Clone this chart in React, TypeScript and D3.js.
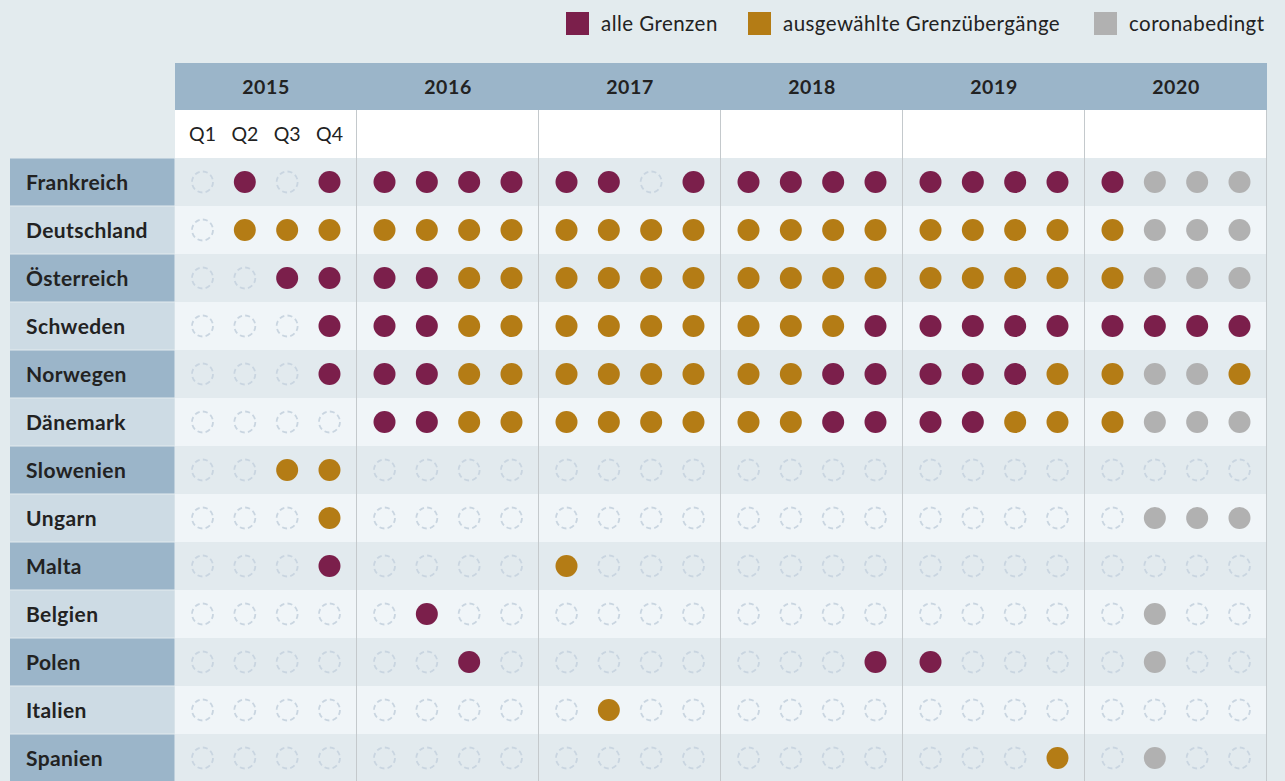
import * as d3 from "d3";

const years = ["2015", "2016", "2017", "2018", "2019", "2020"];
const quarters = ["Q1", "Q2", "Q3", "Q4"];
const countries = [
  "Frankreich",
  "Deutschland",
  "Österreich",
  "Schweden",
  "Norwegen",
  "Dänemark",
  "Slowenien",
  "Ungarn",
  "Malta",
  "Belgien",
  "Polen",
  "Italien",
  "Spanien",
];

// 0 = keine Kontrollen, 1 = alle Grenzen, 2 = ausgewählte Grenzübergänge, 3 = coronabedingt
// one string per country, 4 quarters per year, 2015..2020
const frankreich = "0101 1111 1101 1111 1111 1333";
const deutschland = "0222 2222 2222 2222 2222 2333";
const oesterreich = "0011 1122 2222 2222 2222 2333";
const schweden = "0001 1122 2222 2221 1111 1111";
const norwegen = "0001 1122 2222 2211 1112 2332";
const daenemark = "0000 1122 2222 2211 1122 2333";
const slowenien = "0022 0000 0000 0000 0000 0000";
const ungarn = "0002 0000 0000 0000 0000 0333";
const malta = "0001 0000 2000 0000 0000 0000";
const belgien = "0000 0100 0000 0000 0000 0300";
const polen = "0000 0010 0000 0001 1000 0300";
const italien = "0000 0000 0200 0000 0000 0000";
const spanien = "0000 0000 0000 0000 0002 0300";

const statusRows = [
  frankreich, deutschland, oesterreich, schweden, norwegen, daenemark,
  slowenien, ungarn, malta, belgien, polen, italien, spanien,
];

const legendLabels = ["alle Grenzen", "ausgewählte Grenzübergänge", "coronabedingt"];
const legendX = [566, 748, 1094];

const statusColors = ["none", "#7b1f4b", "#b47c15", "#b1b1b1"];

const width = 1285;
const height = 781;
const font = "'Source Sans Pro', Lato, 'Noto Sans', sans-serif";

export default function App() {
  const x = d3.scaleBand<string>().domain(years).range([175, 1267]);
  const q = d3.scalePoint<string>().domain(quarters).range([0, x.bandwidth()]).padding(0.65);
  const y = d3.scaleBand<string>().domain(countries).range([158, 158 + countries.length * 48]);

  const cells = countries.flatMap((country, ci) => {
    const codes = statusRows[ci].replace(/ /g, "");
    return years.flatMap((year, yi) =>
      quarters.map((quarter, qi) => ({
        country,
        year,
        quarter,
        status: +codes[yi * 4 + qi],
      }))
    );
  });

  return (
    <svg
      width={width}
      height={height}
      style={{ position: "absolute", left: 0, top: 0, fontFamily: font }}
    >
      <rect width={width} height={height} fill="#e3ebee" />

      {/* legend */}
      {legendLabels.map((label, i) => (
        <g key={label} transform={`translate(${legendX[i]}, 12)`}>
          <rect width={23} height={23} fill={statusColors[i + 1]} />
          <text x={35} y={12} dy="0.35em" fontSize={20.5} letterSpacing={0.45} fill="#222">
            {label}
          </text>
        </g>
      ))}

      {/* header */}
      <rect x={175} y={63} width={1092} height={47} fill="#9bb5c9" />
      <rect x={175} y={110} width={1092} height={48} fill="#ffffff" />
      {years.map((year) => (
        <text
          key={year}
          x={(x(year) ?? 0) + x.bandwidth() / 2}
          y={87}
          dy="0.35em"
          textAnchor="middle"
          fontWeight={700}
          fontSize={19.5}
          letterSpacing={0.6}
          fill="#222"
        >
          {year}
        </text>
      ))}
      {quarters.map((quarter) => (
        <text
          key={quarter}
          x={(x(years[0]) ?? 0) + (q(quarter) ?? 0)}
          y={134}
          dy="0.35em"
          textAnchor="middle"
          fontSize={19.5}
          fill="#222"
        >
          {quarter}
        </text>
      ))}

      {/* rows */}
      {countries.map((country, i) => (
        <g key={country}>
          <rect
            x={175}
            y={y(country)}
            width={1092}
            height={y.bandwidth()}
            fill={i % 2 === 0 ? "#e2eaee" : "#f0f5f8"}
          />
          <rect
            x={10}
            y={(y(country) ?? 0) + 0.5}
            width={164.5}
            height={y.bandwidth() - 1}
            fill={i % 2 === 0 ? "#9bb5c9" : "#cddbe4"}
          />
          <text
            x={26}
            y={(y(country) ?? 0) + y.bandwidth() / 2 + 1}
            dy="0.35em"
            fontWeight={700}
            fontSize={21}
            letterSpacing={0.4}
            fill="#222"
          >
            {country}
          </text>
        </g>
      ))}

      {/* year dividers */}
      {years.map((year) => (
        <line
          key={year}
          x1={(x(year) ?? 0) + x.bandwidth() - 0.5}
          x2={(x(year) ?? 0) + x.bandwidth() - 0.5}
          y1={110}
          y2={height}
          stroke="#c4c9cc"
          strokeWidth={1}
        />
      ))}

      {/* dots */}
      {cells.map((cell) => {
        const cx = (x(cell.year) ?? 0) + (q(cell.quarter) ?? 0);
        const cy = (y(cell.country) ?? 0) + y.bandwidth() / 2;
        return cell.status === 0 ? (
          <circle
            key={`${cell.country}-${cell.year}-${cell.quarter}`}
            cx={cx}
            cy={cy}
            r={10.5}
            fill="none"
            stroke="#c9d5e0"
            strokeWidth={1.8}
            strokeDasharray="5 3.25"
          />
        ) : (
          <circle
            key={`${cell.country}-${cell.year}-${cell.quarter}`}
            cx={cx}
            cy={cy}
            r={11}
            fill={statusColors[cell.status]}
          />
        );
      })}
    </svg>
  );
}
